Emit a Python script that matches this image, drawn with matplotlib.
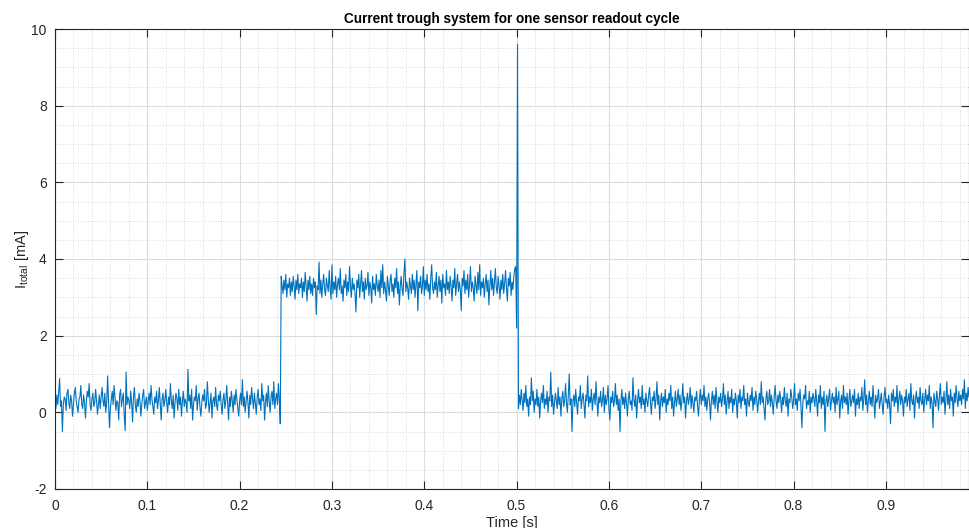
import numpy as np
import matplotlib
matplotlib.use("Agg")
import matplotlib.pyplot as plt
from matplotlib.ticker import MultipleLocator

# ---- data ----
dt = 0.001  # sample period [s]

baseline_before = [
    0.3, 0.1, 0.45, 0.2, 0.55, 0.88, 0.15, 0.3, -0.5, 0.2, 0.4, 0.35, 0.05, 0.5, 0.6, 0.25, 0.1, 0.45, 0.3, -0.1,
    0.2, 0.5, 0.65, 0.3, 0.15, 0.0, 0.35, 0.4, 0.7, 0.2, 0.1, 0.45, 0.25, -0.15, 0.3, 0.55, 0.4, 0.75, 0.2, 0.05,
    0.35, 0.5, 0.15, 0.25, 0.6, 0.3, -0.05, 0.2, 0.45, 0.1, 0.4, 0.65, 0.3, 0.15, 0.5, 0.0, 0.25, 0.95, 0.3, -0.4,
    0.1, 0.35, 0.55, 0.2, 0.7, 0.4, 0.05, 0.3, 0.25, -0.2, 0.45, 0.6, 0.15, 0.35, 0.5, -0.1, -0.48, 1.05, 0.2, 0.4,
    0.3, 0.1, 0.55, 0.25, -0.25, 0.4, 0.65, 0.2, 0.0, 0.35, 0.15, 0.5, 0.3, -0.1, 0.2, 0.45, 0.6, 0.1, 0.25, 0.4,
    0.05, 0.3, 0.5, 0.2, 0.7, 0.35, 0.15, -0.05, 0.4, 0.25, 0.55, 0.1, 0.3, 0.65, 0.2, -0.2, 0.35, 0.5, 0.15, 0.3,
    0.6, 0.25, 0.0, 0.4, 0.2, 0.75, 0.3, 0.1, 0.45, -0.15, 0.25, 0.5, 0.35, 0.05, 0.6, 0.2, 0.4, -0.1, 0.3, 0.55,
    0.15, 0.35, 0.25, 0.0, 1.12, 0.3, 0.45, 0.1, 0.6, -0.2, 0.2, 0.4, 0.3, 0.7, 0.05, 0.35, 0.5, 0.15, -0.1, 0.25,
    0.45, 0.3, 0.6, 0.1, 0.2, 0.8, 0.35, 0.0, 0.25, 0.5, -0.15, 0.3, 0.4, 0.15, 0.65, 0.2, 0.05, 0.45, 0.3, 0.55,
    0.2, -0.05, 0.35, 0.5, 0.1, 0.3, 0.7, 0.25, -0.2, 0.4, 0.15, 0.55, 0.3, 0.0, 0.45, 0.2, 0.6, 0.35, 0.1, -0.1,
    0.3, 0.5, 0.2, 0.85, 0.15, 0.4, 0.0, 0.3, 0.55, 0.25, -0.15, 0.45, 0.2, 0.65, 0.35, 0.1, 0.5, 0.25, -0.05, 0.4,
    0.6, 0.2, 0.35, 0.05, 0.75, 0.3, 0.45, -0.2, 0.25, 0.5, 0.15, 0.7, 0.3, 0.0, 0.4, 0.55, 0.2, 0.8, 0.1, 0.35,
    0.5, 0.2, 0.75, 0.3, -0.3,
]

plateau = [
    3.55, 3.3, 3.1, 3.45, 3.2, 3.6, 3.0, 3.35, 3.25, 3.5, 3.05, 3.4, 3.15, 3.55, 3.3, 2.95, 3.45, 3.2, 3.6, 3.1,
    3.35, 3.25, 3.5, 3.0, 3.4, 3.15, 3.65, 3.3, 2.9, 3.45, 3.2, 3.55, 3.1, 3.35, 3.05, 3.5, 3.25, 3.4, 2.55, 3.3,
    3.2, 3.92, 3.1, 3.45, 3.0, 3.35, 3.6, 3.2, 3.05, 3.5, 3.3, 3.15, 3.7, 3.25, 2.95, 3.85, 3.1, 3.4, 3.2, 3.55,
    3.0, 3.35, 3.5, 3.2, 3.75, 3.1, 3.3, 2.9, 3.45, 3.25, 3.6, 3.05, 3.4, 3.15, 3.8, 3.3, 3.0, 3.5, 3.2, 3.35,
    3.1, 2.62, 3.45, 3.25, 3.6, 3.0, 3.35, 3.7, 3.15, 3.4, 2.95, 3.5, 3.2, 3.3, 3.65, 3.05, 3.4, 3.25, 2.85, 3.55,
    3.2, 3.35, 3.05, 3.6, 3.3, 3.15, 3.45, 3.0, 3.7, 3.25, 3.85, 3.1, 3.4, 3.2, 2.9, 3.55, 3.3, 3.05, 3.45, 3.6,
    3.15, 3.35, 3.0, 3.5, 3.25, 3.75, 3.1, 3.4, 2.8, 3.3, 3.55, 3.2, 3.05, 3.65, 4.0, 3.15, 3.4, 3.25, 2.95, 3.5,
    3.3, 3.1, 3.6, 3.2, 3.45, 3.0, 3.35, 3.7, 2.65, 3.4, 3.25, 3.55, 3.1, 3.3, 3.8, 3.05, 3.45, 3.2, 3.6, 3.15,
    3.35, 2.95, 3.5, 3.85, 3.25, 3.1, 3.4, 3.2, 3.65, 3.0, 3.3, 3.55, 3.15, 3.45, 2.85, 3.6, 3.25, 3.35, 3.05, 3.7,
    3.2, 3.4, 3.1, 3.55, 3.3, 2.9, 3.45, 3.25, 3.75, 3.05, 3.35, 3.6, 3.15, 3.4, 3.2, 2.65, 3.5, 3.3, 3.7, 3.1,
    3.45, 3.2, 3.6, 3.0, 3.35, 3.8, 3.15, 3.4, 3.25, 2.9, 3.55, 3.3, 3.1, 3.65, 3.2, 3.85, 3.05, 3.4, 3.25, 3.5,
    3.0, 3.35, 3.6, 3.15, 3.45, 2.8, 3.3, 3.7, 3.2, 3.5, 3.05, 3.4, 3.75, 3.25, 3.1, 3.55, 3.3, 2.95, 3.45, 3.2,
    3.6, 3.1, 3.35, 3.7, 3.25, 2.9, 3.5, 3.3, 3.65, 3.05, 3.4, 3.2, 3.55, 3.75,
]

spike = [3.8, 2.2, 9.6]

baseline_after = [
    0.1, 0.45, 0.2, 0.6, 0.3, 0.05, 0.5, 0.25, 0.7, 0.15, 0.35, -0.1, 0.4, 0.2, 0.9, 0.3, 0.55, 0.0, 0.35, 0.2,
    0.6, 0.15, 0.4, -0.15, 0.3, 0.5, 0.25, 0.7, 0.1, 0.35, 0.2, 0.55, 0.0, 0.4, 0.3, 1.05, 0.15, 0.45, -0.05, 0.25,
    0.5, 0.3, 0.1, 0.65, 0.2, 0.4, -0.1, 0.35, 0.55, 0.15, 0.3, 0.75, 0.25, 0.0, 0.45, 1.0, 0.2, 0.35, -0.5, 0.3,
    0.45, 0.15, 0.6, 0.25, -0.05, 0.4, 0.3, 0.7, 0.1, 0.35, 0.5, 0.2, -0.15, 0.45, 0.3, 0.95, 0.15, 0.4, 0.25, 0.6,
    0.05, 0.35, 0.5, 0.2, 0.8, 0.3, -0.1, 0.4, 0.25, 0.55, 0.15, 0.3, 0.65, 0.0, 0.45, 0.2, 0.35, 0.7, 0.1, -0.2,
    0.4, 0.25, 0.55, 0.15, 0.3, 0.75, 0.2, 0.45, 0.05, 0.35, -0.5, 0.3, 0.6, 0.2, 0.4, 0.1, 0.5, 0.25, -0.1, 0.35,
    0.55, 0.2, 0.3, 0.05, 0.9, 0.35, 0.15, 0.45, -0.15, 0.3, 0.6, 0.25, 0.4, 0.1, 0.7, 0.2, 0.35, 0.0, 0.5, 0.3,
    0.15, 0.45, 0.65, 0.25, -0.05, 0.4, 0.3, 0.55, 0.1, 0.35, 0.8, 0.2, 0.45, -0.2, 0.3, 0.5, 0.15, 0.4, 0.25, 0.6,
    0.0, 0.35, 0.2, 0.5, 0.3, 0.7, 0.1, 0.4, -0.1, 0.25, 0.55, 0.15, 0.35, 0.6, 0.2, 0.45, 0.05, 0.3, 0.75, 0.25,
    0.4, -0.15, 0.3, 0.5, 0.2, 0.35, 0.65, 0.1, 0.45, 0.25, 0.0, 0.4, 0.3, 0.55, 0.15, -0.1, 0.35, 0.6, 0.2, 0.45,
    0.3, 0.7, 0.15, 0.4, 0.05, 0.35, 0.5, 0.25, -0.2, 0.3, 0.55, 0.2, 0.45, 0.1, 0.65, 0.3, 0.0, 0.4, 0.25, 0.5,
    0.15, 0.35, 0.75, 0.2, 0.45, -0.05, 0.3, 0.55, 0.1, 0.4, 0.25, 0.6, 0.0, 0.35, 0.2, 0.5, 0.3, -0.15, 0.45, 0.25,
    0.6, 0.1, 0.4, 0.3, 0.7, 0.2, 0.35, -0.1, 0.5, 0.25, 0.15, 0.45, 0.3, 0.65, 0.05, 0.4, 0.2, 0.55, 0.35, 0.0,
    0.3, 0.5, 0.2, 0.8, 0.25, 0.4, 0.1, -0.2, 0.35, 0.55, 0.2, 0.3, 0.6, 0.15, 0.45, 0.25, -0.05, 0.4, 0.7, 0.3,
    0.1, 0.45, 0.25, 0.55, 0.35, 0.0, 0.4, 0.2, 0.65, 0.3, 0.15, 0.5, -0.1, 0.35, 0.25, 0.6, 0.4, 0.1, 0.3, 0.75,
    0.2, 0.35, 0.05, 0.5, 0.3, 0.6, 0.15, -0.4, 0.25, 0.45, 0.35, 0.7, 0.1, 0.3, 0.2, 0.55, 0.0, 0.4, 0.25, 0.5,
    0.35, 0.15, 0.6, 0.3, -0.1, 0.45, 0.25, 0.7, 0.1, 0.4, 0.2, 0.55, -0.5, 0.3, 0.45, 0.15, 0.35, 0.6, 0.05, 0.3,
    0.5, 0.25, 0.4, 0.0, 0.65, 0.2, 0.35, 0.55, -0.15, 0.3, 0.45, 0.1, 0.7, 0.25, 0.4, 0.2, 0.5, -0.05, 0.35, 0.6,
    0.15, 0.3, 0.45, 0.25, 0.6, -0.1, 0.35, 0.2, 0.5, 0.1, 0.4, 0.3, 0.65, 0.05, 0.35, 0.85, 0.2, 0.45, 0.0, 0.3,
    0.55, 0.2, 0.4, 0.15, 0.7, 0.3, -0.15, 0.45, 0.25, 0.35, 0.6, 0.1, 0.3, 0.5, 0.2, -0.05, 0.4, 0.65, 0.25, 0.35,
    0.1, 0.45, 0.2, -0.3, 0.5, 0.3, 0.6, 0.15, 0.4, 0.25, 0.7, 0.0, 0.35, 0.55, 0.2, 0.45, 0.3, -0.1, 0.4, 0.25,
    0.6, 0.15, 0.35, 0.5, 0.05, 0.75, 0.3, 0.2, 0.45, -0.15, 0.35, 0.55, 0.25, 0.4, 0.1, 0.65, 0.3, 0.2, 0.5, 0.0,
    0.35, 0.6, 0.2, 0.45, 0.3, 0.7, 0.1, 0.4, 0.25, -0.4, 0.5, 0.3, 0.15, 0.55, 0.35, 0.05, 0.45, 0.75, 0.2, 0.4,
    0.25, 0.55, -0.05, 0.35, 0.8, 0.2, 0.45, 0.1, 0.6, 0.3, 0.4, -0.1, 0.5, 0.25, 0.7, 0.35, 0.15, 0.55, 0.3, 0.45,
    0.2, 0.6, 0.35, 0.85, 0.1, 0.5, 0.3, 0.65, 0.4,
]

title = "Current trough system for one sensor readout cycle"
xlabel = "Time [s]"
ylabel = r"I$_{\mathregular{total}}$ [mA]"
x_limits = (0, 0.99)
y_limits = (-2, 10)

current = np.array(baseline_before + plateau + spike + baseline_after)
time = np.arange(len(current)) * dt

# ---- plot ----
plt.rcParams['font.family'] = ['Liberation Sans', 'DejaVu Sans']
plt.rcParams['axes.unicode_minus'] = False
fig = plt.figure(figsize=(9.7, 5.28), dpi=100)
ax = fig.add_axes([55 / 970, 39 / 528, 914 / 970, 460 / 528])

ax.plot(time, current, color='#0072BD', lw=0.8)

ax.set_xlim(*x_limits)
ax.set_ylim(*y_limits)
ax.xaxis.set_major_locator(MultipleLocator(0.1))
ax.xaxis.set_minor_locator(MultipleLocator(0.02))
ax.yaxis.set_major_locator(MultipleLocator(2))
ax.yaxis.set_minor_locator(MultipleLocator(0.5))
ax.xaxis.set_major_formatter(plt.FuncFormatter(lambda v, p: '%g' % round(v, 2)))

ax.grid(which='major', color='#dcdcdc', lw=0.8, ls='-')
ax.grid(which='minor', color='#cfcfcf', lw=0.6, ls=(0, (1, 2)))
ax.set_axisbelow(True)

for s in ax.spines.values():
    s.set_color('#262626')
    s.set_linewidth(0.8)
ax.tick_params(which='major', direction='in', length=6, width=0.8,
               top=True, right=True, colors='#262626', labelsize=10,
               labelcolor='#262626')
ax.tick_params(which='minor', length=0, top=True, right=True)
ax.tick_params(axis='x', pad=7)
ax.tick_params(axis='y', pad=6)

ax.set_title(title, fontsize=9.8, fontweight='bold', pad=4)
ax.set_xlabel(xlabel, fontsize=10.5, color='#262626', labelpad=2)
ax.set_ylabel(ylabel, fontsize=10.5, color='#262626', labelpad=0)

fig.savefig('out.png', dpi=100)
